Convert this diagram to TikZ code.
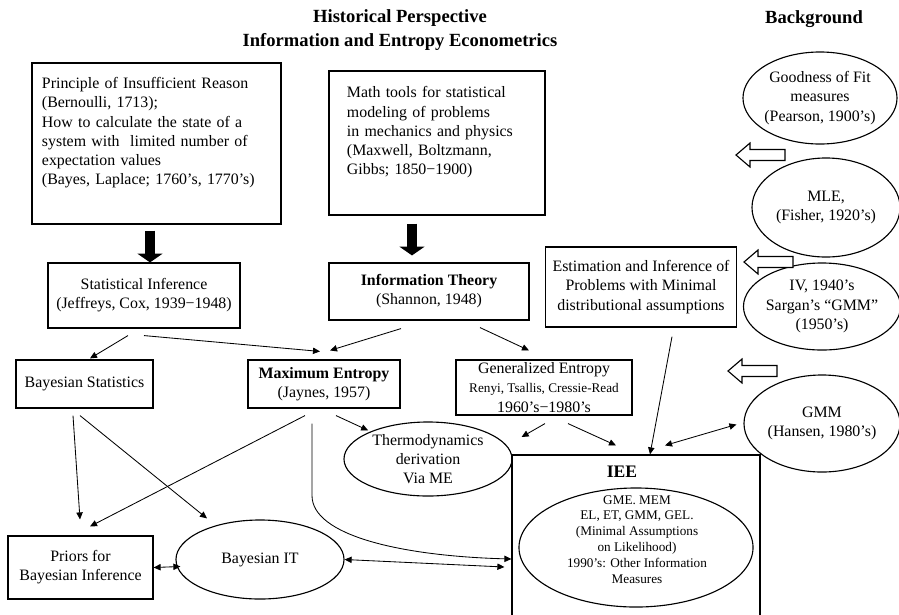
\documentclass[tikz,border=0pt]{standalone}
\usepackage{fontspec}
\setmainfont{Liberation Serif}
\usepackage{tikz}
\usetikzlibrary{arrows.meta,shapes.geometric}

\newcommand\txtsize{\fontsize{11.3}{13.6}\selectfont}
\newcommand\smalltxt{\fontsize{9.4}{11.3}\selectfont}
\newcommand\headtxt{\fontsize{13.2}{17}\selectfont\bfseries}

\tikzset{hollowarr/.pic={\draw[line width=0.8pt, fill=white] (0,0) -- (14,-12) -- (14,-5.5) -- (49,-5.5) -- (49,5.5) -- (14,5.5) -- (14,12) -- cycle;}}

\begin{document}
\begin{tikzpicture}[
	x=0.025cm, y=-0.025cm,
	box/.style={draw, line width=0.8pt, align=center, font=\txtsize, inner sep=0pt},
	oval/.style={ellipse, draw, line width=0.8pt, align=center, font=\txtsize, inner sep=-3pt},
	arr/.style={-{Triangle[length=5pt, width=4.5pt]}, line width=0.6pt},
	dblarr/.style={{Triangle[length=5pt, width=4.5pt]}-{Triangle[length=5pt, width=4.5pt]}, line width=0.6pt},
	bigarr/.style={-{Triangle[length=0.22cm, width=0.62cm]}, line width=0.25cm}
	]
	\useasboundingbox (0,0) rectangle (899,614);
	\clip (0,0) rectangle (899,614);

	% headings
	\node[font=\headtxt, align=center] (title) at (400,30) {Historical Perspective\\Information and Entropy Econometrics};
	\node[font=\headtxt] (bground) at (814,19) {Background};

	% left and middle column
	\node[box, align=left, text width=5.725cm, minimum width=6.225cm, minimum height=4.025cm] (pir) at (156.5,143.5) {Principle of Insufficient Reason\\(Bernoulli, 1713);\\How to calculate the state of a\\system with\ \ limited number of\\expectation values\\(Bayes, Laplace; 1760's, 1770's)\\ \strut};
	\node[box, align=left, text width=4.5cm, minimum width=5.4cm, minimum height=3.6cm] (math) at (437,143) {Math tools for statistical\\modeling of problems\\in mechanics and physics\\(Maxwell, Boltzmann,\\Gibbs; 1850−1900)\\ \strut};
	\node[box, minimum width=4.8cm, minimum height=1.625cm] (statinf) at (144,295.5) {Statistical Inference\\(Jeffreys, Cox, 1939−1948)};
	\node[box, minimum width=5cm, minimum height=1.425cm] (infotheory) at (429,291.5) {\textbf{Information Theory}\\(Shannon, 1948)};
	\node[box, minimum width=4.775cm, minimum height=2cm] (estim) at (641,287) {Estimation and Inference of\\Problems with Minimal\\distributional assumptions};
	\node[box, minimum width=3.425cm, minimum height=1.2cm] (bstat) at (84.5,384) {Bayesian Statistics};
	\node[box, minimum width=3.8cm, minimum height=1.2cm] (maxent) at (324,384) {\textbf{Maximum Entropy}\\(Jaynes, 1957)};
	\node[box, minimum width=4.4cm, minimum height=1.375cm] (genent) at (544,387.5) {Generalized Entropy\\{\smalltxt Renyi, Tsallis, Cressie-Read}\\1960's−1980's};
	\node[box, minimum width=3.625cm, minimum height=1.575cm] (priors) at (80.5,567.5) {Priors for\\Bayesian Inference};
	\node[oval, minimum width=4.2cm, minimum height=1.85cm] (thermo) at (428,459) {Thermodynamics\\derivation\\Via ME};
	\node[oval, minimum width=4.2cm, minimum height=1.975cm] (bayesit) at (260,559.5) {Bayesian IT};

	% IEE
	\node[box, minimum width=6.2cm, minimum height=4.65cm] (iee) at (636,548) {};
	\node[font=\fontsize{12.5}{15}\selectfont\bfseries] (ieetitle) at (622,472) {IEE};
	\node[oval, minimum width=5.85cm, minimum height=2.975cm] (ieeell) at (636,547.5) {};
	\node[font=\smalltxt, align=center] (ieetext) at (637,539.5) {GME. MEM\\EL, ET, GMM, GEL.\\(Minimal Assumptions\\on Likelihood)\\1990's: Other Information\\Measures};

	% background column
	\node[oval, minimum width=3.85cm, minimum height=2.3cm] (goodfit) at (820,98) {Goodness of Fit\\measures\\(Pearson, 1900's)};
	\node[oval, minimum width=3.7cm, minimum height=2.475cm] (mle) at (826,207.5) {MLE,\\(Fisher, 1920's)};
	\node[oval, minimum width=3.925cm, minimum height=2.175cm] (ivgmm) at (822,306.5) {IV, 1940's\\Sargan's ``GMM''\\(1950's)};
	\node[oval, minimum width=3.9cm, minimum height=2.425cm] (gmm) at (822,423.5) {GMM\\(Hansen, 1980's)};
	\pic at (736,155) {hollowarr};
	\pic at (744,262) {hollowarr};
	\pic at (728,371) {hollowarr};

	% connectors
	\draw[bigarr] ([shift={(-6.5,6)}]pir.south) -- ([shift={(6,0)}]statinf.north);
	\draw[bigarr] ([shift={(-25,8)}]math.south) -- ([shift={(-17,-7)}]infotheory.north);
	\draw[arr] ([shift={(-16,7)}]statinf.south) -- ([shift={(5.5,-1)}]bstat.north);
	\draw[arr] ([shift={(0,7)}]statinf.south) -- ([shift={(-4,-8)}]maxent.north);
	\draw[arr] ([shift={(-28,8)}]infotheory.south) -- ([shift={(6,-9)}]maxent.north);
	\draw[arr] ([shift={(51,7)}]infotheory.south) -- ([shift={(-15,-9)}]genent.north);
	\draw[arr] ([shift={(31,9)}]estim.south) -- ([shift={(14,0)}]iee.north);
	\draw[dblarr] ([shift={(29,-9)}]iee.north) -- ([shift={(-7,1)}]gmm.west);
	\draw[arr] ([shift={(1,8)}]genent.south) -- ([shift={(9,-22)}]thermo.east);
	\draw[arr] ([shift={(24,8)}]genent.south) -- ([shift={(-20,-9)}]iee.north);
	\draw[arr] ([shift={(12,7)}]maxent.south) -- ([shift={(0,-2)}]thermo.north west);
	\draw[arr] ([shift={(-19,7)}]maxent.south) -- ([shift={(9.5,-9)}]priors.north);
	\draw[arr] ([shift={(-12,15)}]maxent.south) -- ++(0,72) .. controls ++(0,40) and ([shift={(-110,8)}]iee.west) .. ([shift={(0,11)}]iee.west);
	\draw[dblarr] (bayesit.east) -- ([shift={(-7,19)}]iee.west);
	\draw[dblarr] (priors.east) -- ([shift={(5,7)}]bayesit.west);
	\draw[arr] ([shift={(-11.5,7)}]bstat.south) -- ([shift={(-0.5,-16)}]priors.north);
	\draw[arr] ([shift={(-4.5,7)}]bstat.south) -- ([shift={(-53,-1)}]bayesit.north);
\end{tikzpicture}
\end{document}
